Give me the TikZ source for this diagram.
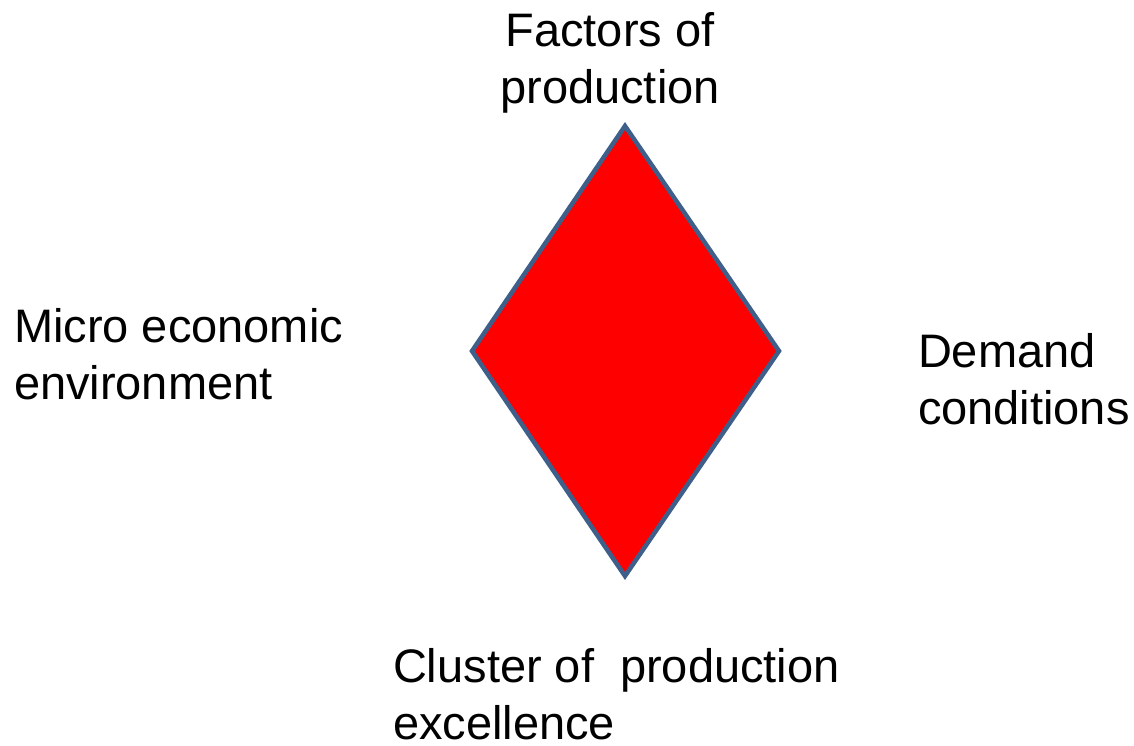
\documentclass[tikz,border=0pt]{standalone}
\usepackage{fontspec}
\setmainfont{Liberation Sans}
\definecolor{edgeblue}{HTML}{3E5F8A}
\definecolor{fillred}{HTML}{FF0000}
\begin{document}
\begin{tikzpicture}[x=1pt,y=-1pt,
  lbl/.style={inner sep=0pt, outer sep=0pt, font=\fontsize{47}{57}\selectfont, text=black},
  diamondshape/.style={draw=edgeblue, fill=fillred, line width=4.5pt, line join=miter}]
\useasboundingbox (0,0) rectangle (1134,745);
\coordinate (top) at (625,126);
\coordinate (left) at (472,351);
\coordinate (right) at (779,351);
\coordinate (bottom) at (625,576);
\draw[diamondshape] (top) -- (right) -- (bottom) -- (left) -- cycle;
\node[lbl, anchor=north, align=center] (factors) at (610,12) {Factors of\\production};
\node[lbl, anchor=north west, align=left] (micro) at (14,308) {Micro economic\\environment};
\node[lbl, anchor=north west, align=left] (demand) at (918,333) {Demand\\conditions};
\node[lbl, anchor=north west, align=left] (cluster) at (393,648) {Cluster of\ \ production\\excellence};
\end{tikzpicture}
\end{document}
